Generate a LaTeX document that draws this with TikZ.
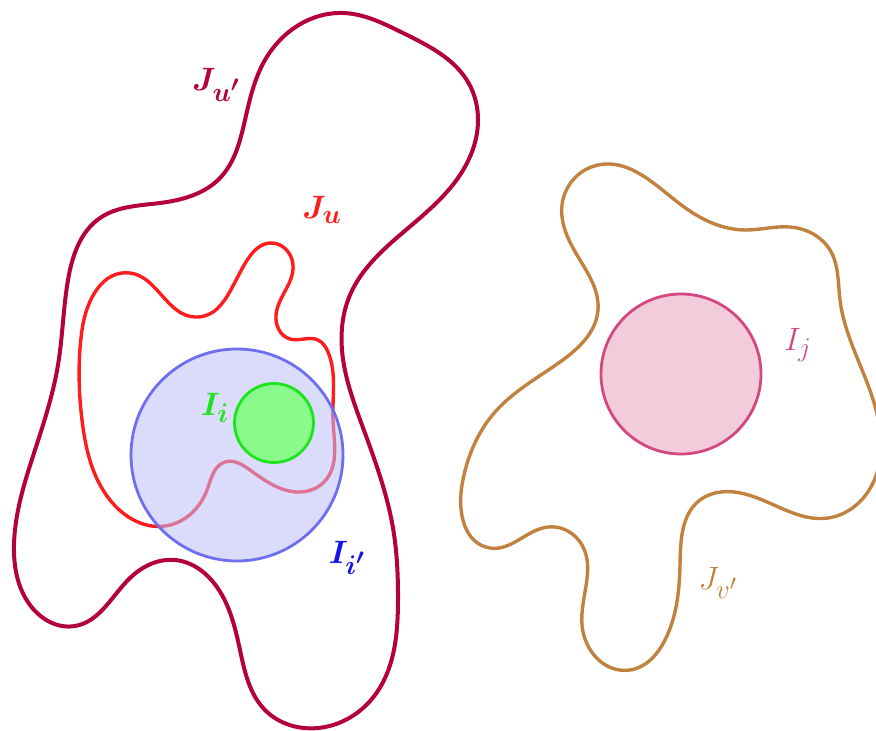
\documentclass[tikz,border=0pt]{standalone}
\usepackage{bm}
\usetikzlibrary{hobby}
\begin{document}
\begin{tikzpicture}[x=1pt,y=-1pt,
  curve/.style={line width=3.4pt, line join=round},
  lab/.style={inner sep=0pt, font=\Huge, scale=1.3, transform shape}]
\definecolor{crim}{RGB}{180,0,62}
\definecolor{redc}{RGB}{255,28,28}
\definecolor{bluel}{RGB}{110,110,240}
\definecolor{bluef}{RGB}{190,190,250}
\definecolor{greenl}{RGB}{30,228,30}
\definecolor{greenf}{RGB}{138,250,138}
\definecolor{pinkl}{RGB}{212,72,130}
\definecolor{pinkf}{RGB}{242,204,218}
\definecolor{orng}{RGB}{192,130,62}
\definecolor{bluet}{RGB}{20,20,230}
\useasboundingbox (0,0) rectangle (876,731);
% J_u'
\draw[curve, crim, line width=4pt, use Hobby shortcut, closed=true]
 (343,13) .. (403,33) .. (468,82) .. (478,122) .. (460,175) .. (400,235)
 .. (350,295) .. (342,350) .. (362,425) .. (393,528) .. (398,600)
 .. (375,695) .. (318,728) .. (265,710) .. (240,650) .. (222,595)
 .. (175,560) .. (130,578) .. (75,626) .. (30,605) .. (14,545)
 .. (35,450) .. (58,365) .. (68,280) .. (100,218) .. (160,203)
 .. (220,178) .. (245,120) .. (265,60);
% J_u
\draw[curve, redc, use Hobby shortcut, closed=true]
 (130,273) .. (195,317) .. (250,256) .. (270,243) .. (293,265)
 .. (276,315) .. (290,339) .. (318,340) .. (328,352) .. (333,420)
 .. (324,482) .. (300,492) .. (250,470) .. (225,462) .. (207,490)
 .. (165,526) .. (110,500) .. (82,420) .. (82,330);
% I_i'
\node[circle, draw=bluel, fill=bluef, fill opacity=0.55, draw opacity=1,
  line width=2.8pt, minimum size=212pt, inner sep=0pt] (iip) at (237,455) {};
% I_i
\node[circle, draw=greenl, fill=greenf, line width=2.8pt,
  minimum size=79pt, inner sep=0pt] (ii) at (274,423) {};
% J_v'
\draw[curve, orng, use Hobby shortcut, closed=true]
 (598,165) .. (562,205) .. (580,260) .. (598,310) .. (560,362)
 .. (495,412) .. (462,485) .. (490,548) .. (548,527) .. (582,545)
 .. (582,625) .. (630,670) .. (665,640) .. (680,565) .. (700,500)
 .. (745,494) .. (828,518) .. (872,485) .. (868,385) .. (840,300)
 .. (830,250) .. (790,227) .. (745,230) .. (680,204);
% I_j
\node[circle, draw=pinkl, fill=pinkf, line width=2.8pt,
  minimum size=160pt, inner sep=0pt] (ij) at (681,374) {};
% labels
\node[lab, text=crim] (lJup) at (216,85) {$\bm{J_{u'}}$};
\node[lab, text=redc] (lJu) at (322,210) {$\bm{J_{u}}$};
\node[lab, text=greenl] (lIi) at (215,408) {$\bm{I_{i}}$};
\node[lab, text=bluet] (lIip) at (347,558) {$\bm{I_{i'}}$};
\node[lab, text=pinkl] (lIj) at (798,345) {$I_{j}$};
\node[lab, text=orng] (lJvp) at (718,583) {$J_{v'}$};
\end{tikzpicture}
\end{document}
